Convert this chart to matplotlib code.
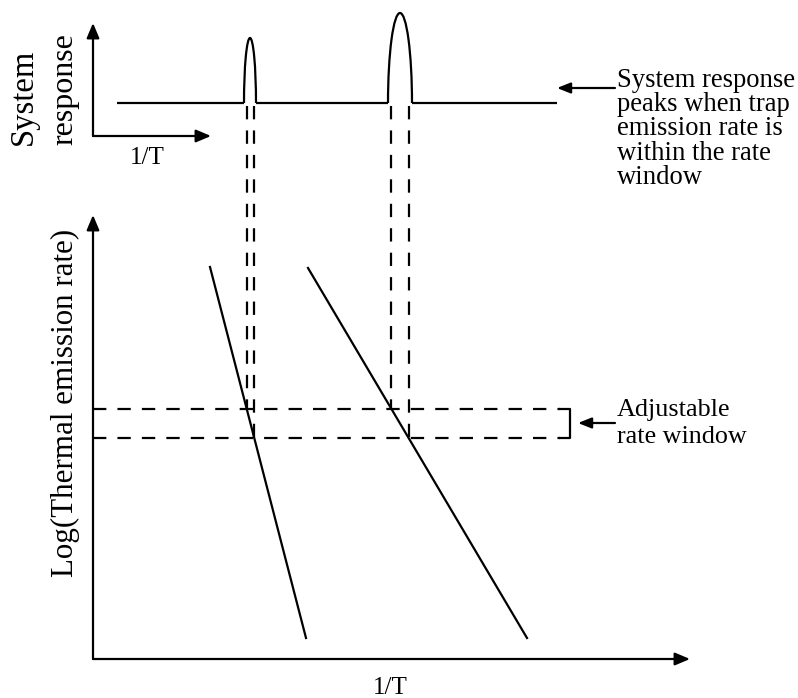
import matplotlib.pyplot as plt
from matplotlib.patches import Arc

# Schematic coordinates (canvas units, y grows downward)
TOP_ORIGIN = (93, 136)          # small "system response vs 1/T" axes
TOP_X_END = 211
TOP_Y_END = 23
MAIN_ORIGIN = (93, 659)         # Log(emission rate) vs 1/T axes
MAIN_X_END = 690
MAIN_Y_END = 215

BASELINE_Y = 103
BASELINE_X = [117, 557]
PEAK_CENTERS = [250, 400]
PEAK_WIDTHS = [12, 24]
PEAK_TOPS = [38, 13]

# Arrhenius lines of two traps: (x_top, y_top, x_bottom, y_bottom)
TRAP_LINES = [(210, 267, 306, 638), (308, 268, 527, 638)]
WINDOW_LEVELS = [409, 438]
WINDOW_X = [93, 560]
BRACKET_X = 570

RIGHT_NOTE = ["System response", "peaks when trap", "emission rate is",
              "within the rate", "window"]
RIGHT_NOTE_BASE = [87, 111, 135, 160, 184]
WINDOW_NOTE = ["Adjustable", "rate window"]
WINDOW_NOTE_BASE = [416, 443]

plt.rcParams['font.family'] = ['Liberation Serif', 'DejaVu Serif']
LW = 1.6
DASH = (0, (6, 5))


def arrow(ax, tail, tip, hl=0.9, hw=0.38):
    ax.annotate('', xy=tip, xytext=tail,
                arrowprops=dict(arrowstyle=f'-|>,head_length={hl},head_width={hw}',
                                lw=LW, color='black', shrinkA=0, shrinkB=0,
                                mutation_scale=10))


def x_at(line, y):
    x0, y0, x1, y1 = line
    return x0 + (x1 - x0) * (y - y0) / (y1 - y0)


fig = plt.figure(figsize=(7.98, 6.98), dpi=100)
ax = fig.add_axes([0, 0, 1, 1])
ax.set_xlim(0, 798)
ax.set_ylim(698, 0)
ax.axis('off')

# axes arrows
arrow(ax, TOP_ORIGIN, (TOP_ORIGIN[0], TOP_Y_END))
arrow(ax, TOP_ORIGIN, (TOP_X_END, TOP_ORIGIN[1]))
arrow(ax, MAIN_ORIGIN, (MAIN_ORIGIN[0], MAIN_Y_END))
arrow(ax, MAIN_ORIGIN, (MAIN_X_END, MAIN_ORIGIN[1]))

# baseline of the system response with gaps for the peaks
edges = [BASELINE_X[0]]
for c, w in zip(PEAK_CENTERS, PEAK_WIDTHS):
    edges += [c - w / 2, c + w / 2]
edges.append(BASELINE_X[1])
for i in range(0, len(edges), 2):
    ax.plot(edges[i:i + 2], [BASELINE_Y, BASELINE_Y], color='black', lw=LW,
            solid_capstyle='butt')
for c, w, top in zip(PEAK_CENTERS, PEAK_WIDTHS, PEAK_TOPS):
    ax.add_patch(Arc((c, BASELINE_Y), w, 2 * (BASELINE_Y - top), theta1=180,
                     theta2=360, color='black', lw=LW))

# trap lines
for line in TRAP_LINES:
    ax.plot([line[0], line[2]], [line[1], line[3]], color='black', lw=LW)

# rate window
for y in WINDOW_LEVELS:
    ax.plot(WINDOW_X, [y, y], color='black', lw=LW, linestyle=DASH,
            dash_capstyle='butt')
ax.plot([WINDOW_X[1], BRACKET_X, BRACKET_X, WINDOW_X[1]],
        [WINDOW_LEVELS[0], WINDOW_LEVELS[0], WINDOW_LEVELS[1], WINDOW_LEVELS[1]],
        color='black', lw=LW)

# projection of the crossings up to the peaks
for line in TRAP_LINES:
    for y in WINDOW_LEVELS:
        xc = x_at(line, y)
        ax.plot([xc, xc], [BASELINE_Y + 3, y], color='black', lw=LW,
                linestyle=DASH, dash_capstyle='butt')

# annotations
arrow(ax, (615, 88), (557, 88), hl=0.8, hw=0.32)
arrow(ax, (615, 423), (578, 423), hl=0.8, hw=0.32)
for txt, yb in zip(RIGHT_NOTE, RIGHT_NOTE_BASE):
    ax.text(617, yb, txt, fontsize=19.2, ha='left', va='baseline')
for txt, yb in zip(WINDOW_NOTE, WINDOW_NOTE_BASE):
    ax.text(617, yb, txt, fontsize=18.8, ha='left', va='baseline')

ax.text(24, 145, 'System', fontsize=23.5, rotation=90, ha='center', va='bottom')
ax.text(65, 145, 'response', fontsize=23, rotation=90, ha='center', va='bottom')
ax.text(147, 158, '1/T', fontsize=18, ha='center', va='center')
ax.text(65, 577, 'Log(Thermal emission rate)', fontsize=22.3, rotation=90,
        ha='center', va='bottom')
ax.text(390, 677, '1/T', fontsize=18, ha='center', va='top')

fig.savefig('out.png', dpi=100)
